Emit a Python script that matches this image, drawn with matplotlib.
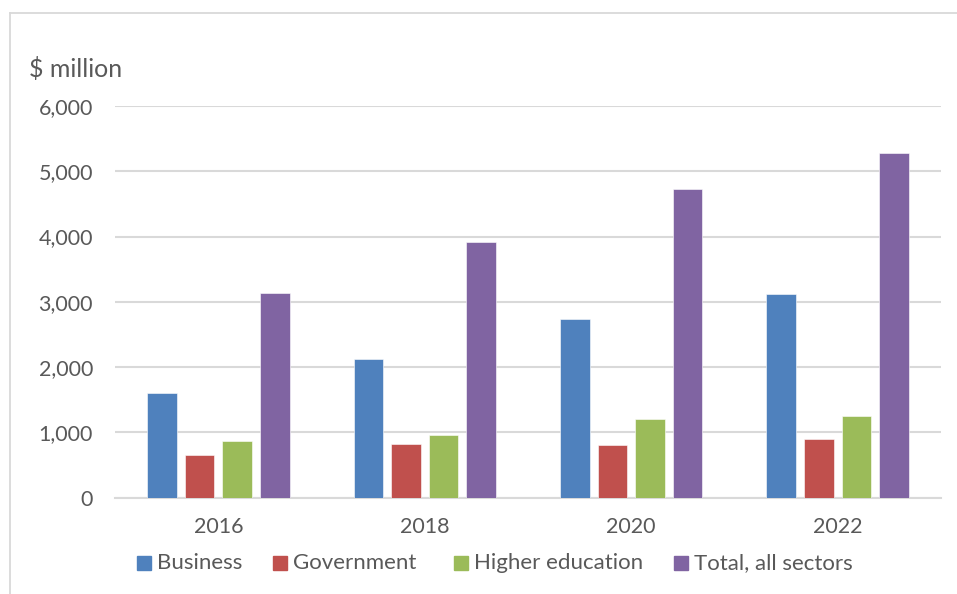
import matplotlib
matplotlib.use('Agg')
import matplotlib.pyplot as plt
from matplotlib.patches import Rectangle
from matplotlib.lines import Line2D
import numpy as np

years = ['2016', '2018', '2020', '2022']
business = [1600, 2130, 2730, 3120]
government = [655, 822, 800, 891]
higher_education = [870, 955, 1200, 1245]
total_all = [3130, 3910, 4725, 5280]

series = [
    ('Business', business, '#4F81BD'),
    ('Government', government, '#C0504D'),
    ('Higher education', higher_education, '#9BBB59'),
    ('Total, all sectors', total_all, '#8064A2'),
]

plt.rcParams['font.family'] = ['Lato', 'DejaVu Sans']
text_color = '#595959'

W, H = 957, 594
fig = plt.figure(figsize=(W / 100, H / 100), dpi=100)

def fx(px):
    return px / W

def fy(py):
    return 1 - py / H

# chart frame: only left and top edges fall inside the canvas
frame = '#D9D9D9'
fig.add_artist(Line2D([fx(9.5), fx(9.5)], [fy(12.5), 0], transform=fig.transFigure,
                      color=frame, linewidth=1.3))
fig.add_artist(Line2D([fx(9.5), 1], [fy(12.5), fy(12.5)], transform=fig.transFigure,
                      color=frame, linewidth=1.3))

left, right, top, bottom = 115.3, 940.7, 106, 497.5
ax = fig.add_axes([fx(left), fy(bottom), (right - left) / W, (bottom - top) / H])

x = np.arange(len(years))
width = 0.143
pitch = 0.182
offsets = (np.arange(len(series)) - 1.5) * pitch
for (name, vals, color), off in zip(series, offsets):
    ax.bar(x + off, vals, width, color=color, label=name, zorder=3,
           edgecolor='white', linewidth=0.4)

ax.set_xlim(-0.5, len(years) - 0.5)
ax.set_ylim(0, 6000)
ax.set_yticks(np.arange(0, 6001, 1000))
ax.set_yticklabels([f'{v:,}' for v in range(0, 6001, 1000)])
ax.set_xticks(x)
ax.set_xticklabels(years)
ax.grid(axis='y', color='#D9D9D9', linewidth=1.5, zorder=0)
for s in ['top', 'right', 'left']:
    ax.spines[s].set_visible(False)
ax.spines['bottom'].set_color('#D9D9D9')
ax.spines['bottom'].set_linewidth(1.5)
ax.tick_params(axis='both', length=0, labelsize=15.5, colors=text_color)
ax.tick_params(axis='y', pad=16)
ax.tick_params(axis='x', pad=14)

fig.text(fx(29), fy(69), '$ million', fontsize=18, color=text_color,
         va='center', ha='left')

# legend row laid out along the bottom
legend_x = [137, 273, 454, 674]
sq = 14
leg_y = 563
for (name, vals, color), lx in zip(series, legend_x):
    fig.patches.append(Rectangle((fx(lx), fy(leg_y + sq / 2)), sq / W, sq / H,
                                 transform=fig.transFigure, color=color))
    fig.text(fx(lx + sq + 6), fy(leg_y), name, fontsize=16, color=text_color,
             va='center', ha='left')

fig.savefig('out.png', dpi=100)
